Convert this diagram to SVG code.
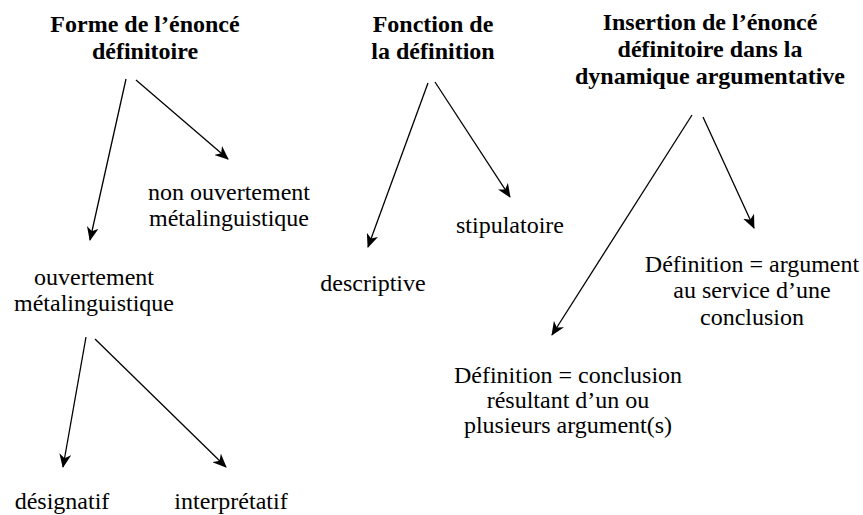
<svg xmlns="http://www.w3.org/2000/svg" width="863" height="515" viewBox="0 0 863 515" font-family="'Liberation Serif', 'Times New Roman', Times, serif">
<style>
text{font-family:'Liberation Serif','Times New Roman',Times,serif;font-size:24px;fill:#000;text-anchor:middle}
.t{font-weight:bold}
.c line{stroke:#000;stroke-width:1.3;fill:none;marker-end:url(#ah)}
</style>
<defs>
<marker id="ah" viewBox="0 0 14 12" refX="13" refY="6" markerWidth="14" markerHeight="12" markerUnits="userSpaceOnUse" orient="auto">
<path d="M0,0 L14,6 L0,12 L4,6 z" fill="#000"/>
</marker>
</defs>
<rect width="863" height="515" fill="#fff"/>
<g id="n-forme"><text class="t" x="145" y="32">Forme de l’énoncé</text><text class="t" x="145" y="59">définitoire</text></g>
<g id="n-fonction"><text class="t" x="433" y="32">Fonction de</text><text class="t" x="433" y="59">la définition</text></g>
<g id="n-insertion"><text class="t" x="710" y="30">Insertion de l’énoncé</text><text class="t" x="710" y="57">définitoire dans la</text><text class="t" x="710" y="84">dynamique argumentative</text></g>
<g id="n-nonouv"><text x="229" y="200">non ouvertement</text><text x="229" y="226">métalinguistique</text></g>
<g id="n-ouv"><text x="94" y="285">ouvertement</text><text x="94" y="311">métalinguistique</text></g>
<g id="n-design"><text x="62" y="509">désignatif</text></g>
<g id="n-interp"><text x="231" y="509">interprétatif</text></g>
<g id="n-stip"><text x="510" y="233">stipulatoire</text></g>
<g id="n-descr"><text x="373" y="291">descriptive</text></g>
<g id="n-arg"><text x="752" y="272">Définition = argument</text><text x="752" y="298">au service d’une</text><text x="752" y="325">conclusion</text></g>
<g id="n-concl"><text x="568" y="383">Définition = conclusion</text><text x="568" y="408">résultant d’un ou</text><text x="568" y="433">plusieurs argument(s)</text></g>
<g id="connectors" class="c">
<line x1="126" y1="79" x2="90" y2="240"/>
<line x1="136" y1="80" x2="228" y2="159"/>
<line x1="86" y1="337" x2="63" y2="467"/>
<line x1="95" y1="339" x2="226" y2="467"/>
<line x1="428" y1="83" x2="368" y2="247"/>
<line x1="435" y1="82" x2="510" y2="197"/>
<line x1="692" y1="115" x2="552" y2="335"/>
<line x1="703" y1="117" x2="754" y2="228"/>
</g>
</svg>
